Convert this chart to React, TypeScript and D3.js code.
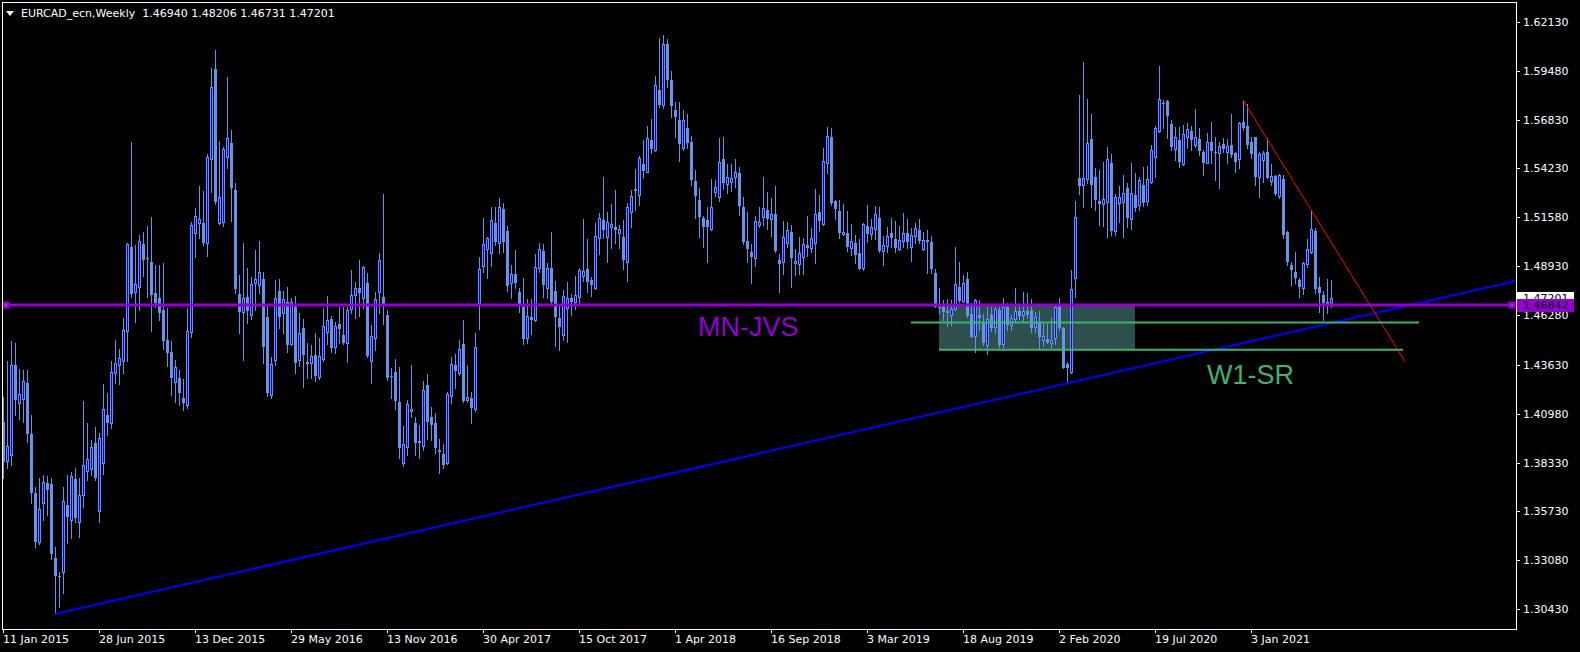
import * as d3 from "d3";
import { useEffect, useRef } from "react";

// weekly candles, [open, high, low, close], first bar = week of 11 Jan 2015
type Bar = [number, number, number, number];

const weeks2015: Bar[] = [
	[1.4055, 1.419, 1.3749, 1.3838], [1.3844, 1.4382, 1.3802, 1.3923], [1.3873, 1.449, 1.382, 1.4359],
	[1.4359, 1.4479, 1.4091, 1.4173], [1.4157, 1.4339, 1.4069, 1.4202], [1.4179, 1.4333, 1.4055, 1.4272],
	[1.4263, 1.4333, 1.3946, 1.3988], [1.3988, 1.4091, 1.3617, 1.3667], [1.3667, 1.3703, 1.3379, 1.3406],
	[1.3406, 1.3748, 1.3395, 1.3581], [1.3617, 1.3766, 1.3523, 1.3727], [1.3722, 1.3761, 1.355, 1.3685],
	[1.3718, 1.3748, 1.3313, 1.334], [1.3316, 1.3379, 1.3016, 1.3223], [1.3214, 1.3241, 1.3052, 1.3223],
	[1.3241, 1.3703, 1.3127, 1.3626], [1.3604, 1.3766, 1.3397, 1.3541], [1.3524, 1.3781, 1.3424, 1.3761],
	[1.3745, 1.3802, 1.3515, 1.3536], [1.3515, 1.3748, 1.343, 1.3658], [1.3657, 1.4168, 1.3595, 1.382],
	[1.379, 1.4045, 1.374, 1.3851], [1.3797, 1.3955, 1.3767, 1.3916], [1.3937, 1.4024, 1.374, 1.3748],
	[1.3574, 1.3995, 1.3515, 1.3964], [1.3833, 1.4256, 1.377, 1.4125], [1.4091, 1.4207, 1.3982, 1.4045],
	[1.4049, 1.4382, 1.402, 1.4321], [1.4316, 1.4496, 1.4262, 1.437], [1.4361, 1.4445, 1.4258, 1.4397],
	[1.4384, 1.4616, 1.4316, 1.455], [1.4546, 1.5021, 1.4384, 1.5014], [1.5, 1.5567, 1.473, 1.4744],
	[1.4757, 1.5009, 1.4595, 1.4798], [1.4783, 1.5063, 1.4658, 1.5028], [1.5014, 1.5081, 1.4841, 1.4928],
	[1.4937, 1.5111, 1.4726, 1.4931], [1.4919, 1.5158, 1.4546, 1.4739], [1.4751, 1.4901, 1.4676, 1.4694],
	[1.4724, 1.4901, 1.4604, 1.4643], [1.4658, 1.491, 1.4445, 1.4492], [1.4496, 1.4667, 1.4357, 1.4427],
	[1.4429, 1.449, 1.4199, 1.4289], [1.4267, 1.4388, 1.4163, 1.4352], [1.4289, 1.4334, 1.4145, 1.4208],
	[1.4181, 1.4283, 1.4118, 1.4157], [1.4145, 1.4667, 1.4127, 1.4544], [1.4541, 1.5135, 1.451, 1.5117],
	[1.5072, 1.5207, 1.4942, 1.5165], [1.5126, 1.5327, 1.5045, 1.5147], [1.5129, 1.53, 1.5009, 1.5018],
];

const weeks2016: Bar[] = [
	[1.5021, 1.55, 1.4951, 1.5486], [1.5471, 1.5963, 1.5297, 1.586], [1.5959, 1.6062, 1.523, 1.5239],
	[1.5126, 1.5572, 1.5122, 1.527], [1.5135, 1.554, 1.5111, 1.5527], [1.5486, 1.5914, 1.5423, 1.5585],
	[1.5558, 1.563, 1.514, 1.5318], [1.5306, 1.5342, 1.4751, 1.4769], [1.4744, 1.4847, 1.4532, 1.4649],
	[1.4649, 1.5021, 1.4388, 1.4721], [1.4726, 1.4883, 1.4589, 1.4654], [1.4631, 1.4838, 1.4607, 1.4796],
	[1.4805, 1.4982, 1.4658, 1.4823], [1.4793, 1.503, 1.4748, 1.4865], [1.4823, 1.4865, 1.4373, 1.446],
	[1.4622, 1.4685, 1.4193, 1.4208], [1.4199, 1.4406, 1.4181, 1.4366], [1.4388, 1.482, 1.4361, 1.4721],
	[1.4762, 1.4823, 1.4559, 1.4622], [1.464, 1.4762, 1.4532, 1.4715], [1.4703, 1.4784, 1.4433, 1.4469],
	[1.4474, 1.4721, 1.4469, 1.4703], [1.4676, 1.4733, 1.4319, 1.4373], [1.4388, 1.464, 1.4355, 1.4532],
	[1.4562, 1.4607, 1.4244, 1.4415], [1.4375, 1.4481, 1.4289, 1.4365], [1.437, 1.4469, 1.4289, 1.4409],
	[1.4415, 1.4535, 1.4276, 1.4301], [1.4298, 1.4505, 1.4283, 1.4409], [1.4391, 1.4667, 1.4384, 1.4571],
	[1.4541, 1.4733, 1.4474, 1.4604], [1.4607, 1.4625, 1.4433, 1.4451], [1.446, 1.4595, 1.4427, 1.4571],
	[1.4582, 1.4676, 1.4478, 1.4555], [1.4523, 1.4676, 1.4474, 1.4478], [1.4481, 1.4676, 1.4379, 1.4658],
	[1.4661, 1.4874, 1.464, 1.4739], [1.4739, 1.4811, 1.4613, 1.4775], [1.4778, 1.4928, 1.4625, 1.4751],
	[1.4721, 1.4895, 1.4667, 1.4892], [1.4802, 1.4856, 1.4406, 1.4409], [1.4384, 1.4577, 1.4262, 1.4517],
	[1.4505, 1.4757, 1.4442, 1.4715], [1.4757, 1.4964, 1.4643, 1.4928], [1.473, 1.5284, 1.4582, 1.4685],
	[1.4631, 1.4658, 1.428, 1.4289], [1.4301, 1.4343, 1.4181, 1.4294], [1.4323, 1.4391, 1.4121, 1.4168],
	[1.4159, 1.4352, 1.3857, 1.391], [1.3833, 1.4031, 1.3815, 1.3932], [1.3916, 1.4172, 1.3875, 1.4148],
	[1.411, 1.4361, 1.4082, 1.4123],
];

const weeks2017: Bar[] = [
	[1.4046, 1.4082, 1.3875, 1.3941], [1.395, 1.4037, 1.3857, 1.3941], [1.3925, 1.4276, 1.3902, 1.4226],
	[1.4253, 1.4312, 1.3959, 1.4055], [1.4082, 1.4136, 1.3956, 1.4037], [1.4049, 1.4103, 1.3883, 1.3914],
	[1.3902, 1.3959, 1.3779, 1.3893], [1.388, 1.3934, 1.3803, 1.3821], [1.383, 1.4217, 1.3826, 1.4204],
	[1.4195, 1.4406, 1.4157, 1.4366], [1.4361, 1.442, 1.4235, 1.433], [1.4319, 1.4496, 1.4307, 1.4445],
	[1.4474, 1.4604, 1.416, 1.4168], [1.4172, 1.4361, 1.4163, 1.4186], [1.4181, 1.4217, 1.4049, 1.413],
	[1.4121, 1.4532, 1.4114, 1.4456], [1.4694, 1.4942, 1.4555, 1.4877], [1.4895, 1.5153, 1.4865, 1.5014],
	[1.4985, 1.5054, 1.4829, 1.5045], [1.4967, 1.5212, 1.4895, 1.5144], [1.5129, 1.5212, 1.5009, 1.5027],
	[1.5021, 1.5261, 1.4967, 1.5212], [1.5203, 1.5234, 1.4973, 1.5023], [1.5084, 1.5112, 1.476, 1.4789],
	[1.4802, 1.4901, 1.4724, 1.485], [1.485, 1.4982, 1.4779, 1.4806], [1.4757, 1.4775, 1.4649, 1.4688],
	[1.4676, 1.4829, 1.4472, 1.4501], [1.4508, 1.4717, 1.4478, 1.4626], [1.4619, 1.4717, 1.4526, 1.4604],
	[1.4604, 1.4958, 1.4598, 1.4892], [1.4887, 1.5018, 1.4865, 1.4986], [1.4977, 1.5014, 1.473, 1.4793],
	[1.4775, 1.491, 1.4724, 1.4883], [1.4883, 1.5077, 1.4685, 1.4699], [1.4761, 1.4815, 1.4465, 1.4622],
	[1.4617, 1.4685, 1.4442, 1.4568], [1.4523, 1.4766, 1.4496, 1.4735], [1.4671, 1.4807, 1.4487, 1.4724],
	[1.4721, 1.4743, 1.4631, 1.4699], [1.4699, 1.4843, 1.4663, 1.4739], [1.473, 1.4883, 1.4689, 1.4874],
	[1.4843, 1.5149, 1.4815, 1.487], [1.4879, 1.5041, 1.4757, 1.4811], [1.482, 1.4838, 1.4735, 1.4793],
	[1.4779, 1.5126, 1.4771, 1.5057], [1.5045, 1.518, 1.4958, 1.5156], [1.5144, 1.5374, 1.5045, 1.509],
	[1.5054, 1.5185, 1.4919, 1.5131], [1.5108, 1.5228, 1.4994, 1.512], [1.5108, 1.5306, 1.5018, 1.509],
	[1.5072, 1.5117, 1.4994, 1.5093], [1.5052, 1.5144, 1.4879, 1.4928],
];

const weeks2018: Bar[] = [
	[1.4919, 1.5234, 1.4815, 1.5212], [1.5189, 1.5306, 1.5108, 1.5275], [1.5311, 1.5419, 1.5198, 1.5302],
	[1.5279, 1.5491, 1.5225, 1.5477], [1.5444, 1.5576, 1.5372, 1.5408], [1.5405, 1.5651, 1.5401, 1.5585],
	[1.5576, 1.5689, 1.5504, 1.5527], [1.5522, 1.5921, 1.5516, 1.5873], [1.5846, 1.6125, 1.5756, 1.5765],
	[1.5765, 1.6143, 1.5748, 1.6092], [1.6092, 1.612, 1.586, 1.59], [1.59, 1.595, 1.57, 1.576],
	[1.5738, 1.578, 1.559, 1.5698], [1.5684, 1.578, 1.5464, 1.5552], [1.5531, 1.5738, 1.5522, 1.5684],
	[1.5639, 1.5716, 1.5531, 1.5558], [1.5563, 1.5597, 1.5333, 1.536], [1.5354, 1.5414, 1.5153, 1.5273],
	[1.5252, 1.5315, 1.5054, 1.5162], [1.5153, 1.5165, 1.5, 1.5108], [1.5144, 1.5216, 1.4919, 1.5108],
	[1.5095, 1.5363, 1.509, 1.5212], [1.5297, 1.536, 1.5273, 1.5324], [1.5266, 1.5585, 1.5248, 1.5459],
	[1.5471, 1.559, 1.5309, 1.5345], [1.5338, 1.5446, 1.5288, 1.5374], [1.5351, 1.5446, 1.5302, 1.5369],
	[1.5374, 1.5471, 1.532, 1.5401], [1.5396, 1.5428, 1.5171, 1.5219], [1.5212, 1.5266, 1.5014, 1.5027],
	[1.503, 1.5189, 1.4919, 1.4985], [1.4969, 1.5012, 1.4802, 1.4942], [1.4937, 1.5167, 1.4897, 1.514],
	[1.5117, 1.5216, 1.5108, 1.5135], [1.5158, 1.5374, 1.5117, 1.5207], [1.5198, 1.5297, 1.5093, 1.5147],
	[1.5147, 1.5261, 1.5057, 1.5174], [1.5176, 1.5327, 1.4973, 1.4978], [1.4928, 1.496, 1.4757, 1.4906],
	[1.4915, 1.514, 1.4852, 1.505], [1.5018, 1.5135, 1.4996, 1.509], [1.5077, 1.5117, 1.478, 1.4937],
	[1.491, 1.4985, 1.4847, 1.4922], [1.4904, 1.5054, 1.485, 1.4964], [1.4942, 1.5045, 1.485, 1.5012],
	[1.5009, 1.5167, 1.4949, 1.4994], [1.4991, 1.5099, 1.4973, 1.5045], [1.5021, 1.5311, 1.4913, 1.5174],
	[1.5185, 1.5279, 1.5086, 1.5138], [1.512, 1.5531, 1.5117, 1.5462], [1.5453, 1.5648, 1.5399, 1.5599],
	[1.559, 1.564, 1.5225, 1.5237],
];

const weeks2019: Bar[] = [
	[1.5246, 1.5252, 1.5149, 1.5203], [1.5192, 1.5252, 1.5045, 1.5072], [1.5067, 1.523, 1.5063, 1.5081],
	[1.5076, 1.5192, 1.4978, 1.5], [1.4991, 1.5122, 1.4955, 1.5031], [1.5022, 1.5063, 1.4913, 1.4955],
	[1.4967, 1.5039, 1.4879, 1.4879], [1.4883, 1.5126, 1.4874, 1.5122], [1.5111, 1.5225, 1.5027, 1.5068],
	[1.5067, 1.5147, 1.5039, 1.5108], [1.5093, 1.5219, 1.5039, 1.5176], [1.5153, 1.5212, 1.4973, 1.4976],
	[1.4978, 1.5057, 1.4901, 1.5009], [1.5005, 1.5108, 1.4973, 1.5057], [1.5072, 1.5153, 1.5, 1.5048],
	[1.5039, 1.514, 1.4973, 1.4994], [1.4987, 1.5111, 1.4982, 1.5036], [1.5032, 1.5183, 1.5, 1.5072],
	[1.5072, 1.5147, 1.4991, 1.5023], [1.5, 1.5102, 1.4924, 1.5063], [1.5059, 1.5126, 1.5018, 1.5099],
	[1.509, 1.5149, 1.5021, 1.5032], [1.4987, 1.5077, 1.4982, 1.5036], [1.5036, 1.509, 1.4859, 1.5023],
	[1.5023, 1.5057, 1.4859, 1.4879], [1.4859, 1.4877, 1.4672, 1.4676], [1.4667, 1.4775, 1.464, 1.4676],
	[1.4672, 1.4712, 1.4604, 1.4649], [1.4652, 1.4717, 1.4571, 1.4643], [1.4631, 1.4712, 1.4577, 1.4661],
	[1.4663, 1.5, 1.4658, 1.4797], [1.478, 1.4919, 1.4703, 1.4706], [1.4706, 1.4847, 1.4703, 1.4802],
	[1.4825, 1.4865, 1.4622, 1.4627], [1.4634, 1.4694, 1.451, 1.4514], [1.4519, 1.4717, 1.4433, 1.4712],
	[1.4631, 1.4712, 1.455, 1.4616], [1.4595, 1.4636, 1.4469, 1.4481], [1.4469, 1.4676, 1.4418, 1.4607],
	[1.4631, 1.4676, 1.4546, 1.4562], [1.4564, 1.4676, 1.4532, 1.4662], [1.4658, 1.4672, 1.446, 1.4469],
	[1.4473, 1.4721, 1.4456, 1.4676], [1.4676, 1.4698, 1.455, 1.4577], [1.4577, 1.4631, 1.455, 1.4613],
	[1.4607, 1.4775, 1.46, 1.4654], [1.4653, 1.468, 1.4607, 1.4627], [1.4631, 1.4757, 1.46, 1.4654],
	[1.4653, 1.4748, 1.4613, 1.4631], [1.4658, 1.4716, 1.4541, 1.4562], [1.4564, 1.4649, 1.4541, 1.4618],
	[1.4595, 1.4653, 1.4451, 1.451],
];

const weeks2020: Bar[] = [
	[1.4496, 1.4582, 1.4463, 1.4517], [1.45, 1.4582, 1.4478, 1.4482], [1.4482, 1.4613, 1.4456, 1.4496],
	[1.4505, 1.469, 1.4474, 1.4676], [1.468, 1.4721, 1.455, 1.4559], [1.4559, 1.4565, 1.4343, 1.4347],
	[1.4366, 1.4379, 1.4262, 1.4347], [1.4325, 1.4874, 1.432, 1.477], [1.4833, 1.5247, 1.4726, 1.5158],
	[1.5372, 1.5819, 1.5284, 1.5327], [1.5333, 1.5999, 1.5216, 1.5372], [1.5363, 1.5795, 1.5342, 1.5558],
	[1.558, 1.5716, 1.5216, 1.5333], [1.5374, 1.5423, 1.5198, 1.5252], [1.5246, 1.5414, 1.5117, 1.5228],
	[1.5228, 1.5459, 1.5111, 1.5255], [1.5243, 1.554, 1.5054, 1.5471], [1.545, 1.55, 1.5063, 1.5086],
	[1.5086, 1.5284, 1.5063, 1.5266], [1.5234, 1.5327, 1.5135, 1.5266], [1.5243, 1.5387, 1.5054, 1.5288],
	[1.5315, 1.5345, 1.5104, 1.5156], [1.5147, 1.545, 1.5093, 1.5291], [1.5279, 1.5396, 1.5194, 1.5207],
	[1.5225, 1.5378, 1.5198, 1.536], [1.5333, 1.5428, 1.5219, 1.5234], [1.5248, 1.5435, 1.5225, 1.5363],
	[1.5351, 1.5549, 1.5342, 1.5522], [1.5482, 1.5652, 1.5378, 1.5639], [1.5626, 1.5975, 1.5621, 1.5797],
	[1.5778, 1.5792, 1.5639, 1.577], [1.5786, 1.5792, 1.5585, 1.5705], [1.566, 1.5684, 1.5522, 1.554],
	[1.5525, 1.5648, 1.5468, 1.5594], [1.5576, 1.5648, 1.5432, 1.5459], [1.5446, 1.5657, 1.5441, 1.5606],
	[1.559, 1.5666, 1.5531, 1.5633], [1.5624, 1.5653, 1.5522, 1.5576], [1.5549, 1.5743, 1.554, 1.559],
	[1.5579, 1.5639, 1.5495, 1.5518], [1.5513, 1.5522, 1.5387, 1.5453], [1.5453, 1.5612, 1.545, 1.5563],
	[1.5567, 1.5675, 1.545, 1.5518], [1.5513, 1.5594, 1.536, 1.5504], [1.5504, 1.5567, 1.5315, 1.5543],
	[1.5554, 1.5585, 1.5513, 1.5525], [1.5513, 1.5579, 1.545, 1.5543], [1.5549, 1.5714, 1.5486, 1.5495],
	[1.5504, 1.5513, 1.5405, 1.5459], [1.5471, 1.5671, 1.5423, 1.5666], [1.5671, 1.5792, 1.563, 1.5642],
	[1.5651, 1.5768, 1.5531, 1.5549],
];

const weeks2021: Bar[] = [
	[1.5563, 1.5594, 1.5477, 1.55], [1.5594, 1.5594, 1.5333, 1.5378], [1.5378, 1.5513, 1.527, 1.55],
	[1.5468, 1.5516, 1.5347, 1.5504], [1.5513, 1.5585, 1.5369, 1.5372], [1.5356, 1.5446, 1.5333, 1.5381],
	[1.5383, 1.5387, 1.5279, 1.5282], [1.5275, 1.539, 1.5261, 1.5387], [1.5365, 1.5387, 1.5049, 1.5063],
	[1.5081, 1.5085, 1.4901, 1.4915], [1.4901, 1.4919, 1.4793, 1.4874], [1.4861, 1.4973, 1.4802, 1.4829],
	[1.482, 1.4829, 1.4726, 1.4784], [1.4778, 1.4919, 1.4742, 1.491], [1.4904, 1.5041, 1.4892, 1.4985],
	[1.4969, 1.5198, 1.4964, 1.5094], [1.5086, 1.5099, 1.4748, 1.4771], [1.4784, 1.4838, 1.4649, 1.4748],
	[1.4739, 1.4761, 1.4604, 1.4694], [1.47, 1.4825, 1.464, 1.469], [1.4694, 1.48206, 1.46731, 1.47201],
];

const dateLabels = [
	"11 Jan 2015", "28 Jun 2015", "13 Dec 2015", "29 May 2016", "13 Nov 2016", "30 Apr 2017", "15 Oct 2017",
	"1 Apr 2018", "16 Sep 2018", "3 Mar 2019", "18 Aug 2019", "2 Feb 2020", "19 Jul 2020", "3 Jan 2021",
];
const priceLabels = [
	"1.62130", "1.59480", "1.56830", "1.54230", "1.51580", "1.48930", "1.46280",
	"1.43630", "1.40980", "1.38330", "1.35730", "1.33080", "1.30430",
];

const title = "EURCAD_ecn,Weekly";
const titleQuote = ["1.46940", "1.48206", "1.46731", "1.47201"];
const bidPrice = 1.47201;

// drawn objects
const jvsLevel = 1.46842;
const srUpper = { price: 1.459, from: 227, to: 354 };
const srLower = { price: 1.4443, from: 234, to: 350 };
const srZone = { top: 1.46842, bottom: 1.4443, from: 234, to: 283 };
const blueTrend = [[13, 1.3016], [266, 1.4262]];
const redTrend = [[310, 1.5792], [350.5, 1.438]];
const jvsText = { text: "MN-JVS", bar: 173.75, price: 1.4515 };
const srText = { text: "W1-SR", bar: 301, price: 1.4258 };

const W = 1580;
const H = 652;
const BULL_FILL = "#0000ff";
const CANDLE = "#6495ed";
const VIOLET = "#9400d3";
const GREEN = "#3cb371";

function App() {
	const ref = useRef<SVGSVGElement>(null);

	useEffect(() => {
		const bars = [...weeks2015, ...weeks2016, ...weeks2017, ...weeks2018, ...weeks2019, ...weeks2020, ...weeks2021];
		const left = 3;
		const right = 1516;
		const top = 2;
		const bottom = 629;

		// 4px per weekly bar
		const x = d3.scaleLinear().domain([0, (right - left) / 4]).range([left, right]);
		const y = d3.scaleLinear().domain([1.3043, 1.6213]).range([609, 22]);

		const svg = d3.select(ref.current);
		svg.selectAll("*").remove();
		svg.append("rect").attr("width", W).attr("height", H).attr("fill", "#000");

		svg.append("defs")
			.append("clipPath")
			.attr("id", "plot")
			.append("rect")
			.attr("x", left)
			.attr("y", top)
			.attr("width", right - left)
			.attr("height", bottom - top);

		const plot = svg.append("g").attr("clip-path", "url(#plot)");

		plot.append("rect")
			.attr("x", x(srZone.from))
			.attr("y", y(srZone.top))
			.attr("width", x(srZone.to) - x(srZone.from))
			.attr("height", y(srZone.bottom) - y(srZone.top))
			.attr("fill", "#2f4f4f");

		const candles = plot.append("g").attr("shape-rendering", "crispEdges");
		bars.forEach((b, i) => {
			const [o, h, l, c] = b;
			const cx = Math.round(x(i));
			const hi = Math.round(y(Math.max(h, o, c)));
			const lo = Math.round(y(Math.min(l, o, c)));
			candles.append("line")
				.attr("x1", cx + 0.5).attr("x2", cx + 0.5)
				.attr("y1", hi).attr("y2", lo + 1)
				.attr("stroke", CANDLE);
			const yo = Math.round(y(o));
			const yc = Math.round(y(c));
			if (c > o && yo - yc >= 2) {
				candles.append("rect")
					.attr("x", cx - 0.5).attr("y", yc + 0.5)
					.attr("width", 2).attr("height", yo - yc)
					.attr("fill", BULL_FILL).attr("stroke", CANDLE);
			} else {
				candles.append("rect")
					.attr("x", cx - 1).attr("y", Math.min(yo, yc))
					.attr("width", 3).attr("height", Math.max(1, Math.abs(yc - yo)))
					.attr("fill", CANDLE);
			}
		});

		// rising support trendline (ray)
		const slope = (blueTrend[1][1] - blueTrend[0][1]) / (blueTrend[1][0] - blueTrend[0][0]);
		const endBar = x.domain()[1];
		plot.append("line")
			.attr("x1", x(blueTrend[0][0])).attr("y1", y(blueTrend[0][1]))
			.attr("x2", x(endBar)).attr("y2", y(blueTrend[0][1] + slope * (endBar - blueTrend[0][0])))
			.attr("stroke", "#0000ff").attr("stroke-width", 2);

		plot.append("line")
			.attr("x1", x(redTrend[0][0])).attr("y1", y(redTrend[0][1]))
			.attr("x2", x(redTrend[1][0])).attr("y2", y(redTrend[1][1]))
			.attr("stroke", "#ff0000").attr("stroke-width", 1);

		[srUpper, srLower].forEach((s) => {
			plot.append("line")
				.attr("x1", x(s.from)).attr("x2", x(s.to))
				.attr("y1", y(s.price)).attr("y2", y(s.price))
				.attr("stroke", GREEN).attr("stroke-width", 2);
		});

		plot.append("line")
			.attr("x1", left).attr("x2", right)
			.attr("y1", y(jvsLevel)).attr("y2", y(jvsLevel))
			.attr("stroke", VIOLET).attr("stroke-width", 3);

		// selection handles of the horizontal line
		[left + 3, right - 4].forEach((hx) => {
			svg.append("rect")
				.attr("x", hx - 3.5).attr("y", y(jvsLevel) - 3.5)
				.attr("width", 7).attr("height", 7).attr("fill", VIOLET);
			svg.append("rect")
				.attr("x", hx - 0.5).attr("y", y(jvsLevel) - 0.5)
				.attr("width", 1).attr("height", 1).attr("fill", "#fff");
		});

		[
			{ t: jvsText, color: VIOLET },
			{ t: srText, color: GREEN },
		].forEach(({ t, color }) => {
			plot.append("text")
				.attr("x", x(t.bar)).attr("y", y(t.price))
				.attr("fill", color)
				.style("font-family", "'Liberation Sans', Arial, sans-serif")
				.style("font-size", "27px")
				.text(t.text);
		});

		// frame
		svg.append("rect")
			.attr("x", left - 0.5).attr("y", top + 0.5)
			.attr("width", right - left + 1).attr("height", bottom - top)
			.attr("fill", "none").attr("stroke", "#fff").attr("shape-rendering", "crispEdges");

		const font = "'DejaVu Sans', sans-serif";

		// price axis
		const yAxis = svg.append("g").attr("shape-rendering", "crispEdges");
		priceLabels.forEach((lab) => {
			const py = Math.round(y(+lab));
			yAxis.append("line")
				.attr("x1", right).attr("x2", right + 4)
				.attr("y1", py + 0.5).attr("y2", py + 0.5)
				.attr("stroke", "#fff");
			yAxis.append("text")
				.attr("x", right + 7).attr("y", py + 4)
				.attr("fill", "#fff")
				.style("font-family", font).style("font-size", "11px")
				.text(lab);
		});

		[
			{ p: bidPrice, fill: "#fff" },
			{ p: jvsLevel, fill: VIOLET },
		].forEach(({ p, fill }) => {
			const py = y(p);
			yAxis.append("rect")
				.attr("x", right + 1).attr("y", Math.round(py) - 6)
				.attr("width", 57).attr("height", 13)
				.attr("fill", fill);
			yAxis.append("text")
				.attr("x", right + 7).attr("y", Math.round(py) + 4)
				.attr("fill", "#000")
				.style("font-family", font).style("font-size", "11px")
				.text(p.toFixed(5));
		});

		// time axis
		const xAxis = svg.append("g").attr("shape-rendering", "crispEdges");
		dateLabels.forEach((lab, k) => {
			const tx = Math.round(x(k * 24));
			xAxis.append("line")
				.attr("x1", tx + 0.5).attr("x2", tx + 0.5)
				.attr("y1", bottom).attr("y2", bottom + 4)
				.attr("stroke", "#fff");
			xAxis.append("text")
				.attr("x", tx).attr("y", bottom + 14)
				.attr("fill", "#fff")
				.style("font-family", font).style("font-size", "11px")
				.text(lab);
		});

		// header
		svg.append("path")
			.attr("d", "M6,11 L14,11 L10,16 Z")
			.attr("fill", "#fff");
		svg.append("text")
			.attr("x", 21).attr("y", 17)
			.attr("fill", "#fff")
			.attr("xml:space", "preserve")
			.style("font-family", font).style("font-size", "11px")
			.style("white-space", "pre")
			.text(title + "  " + titleQuote.join(" "));
	}, []);

	return (
		<svg
			ref={ref}
			width={W}
			height={H}
			style={{ position: "fixed", left: 0, top: 0, display: "block" }}
		/>
	);
}

export default App;
